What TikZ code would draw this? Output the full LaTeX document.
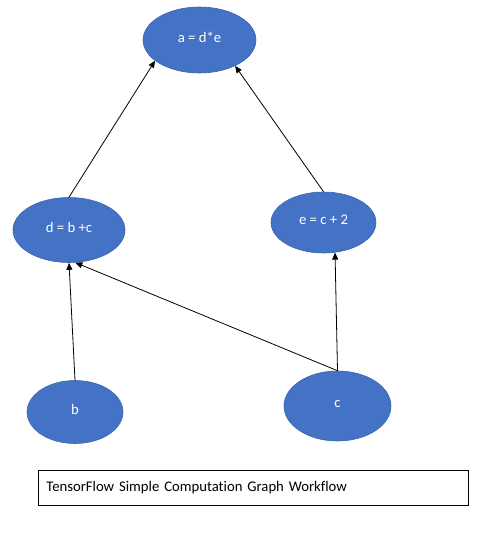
\documentclass[tikz,border=0pt]{standalone}
\usepackage{fontspec}
\setmainfont[Ligatures=NoCommon]{Carlito}
\usetikzlibrary{arrows.meta,shapes.geometric}
\definecolor{nodeblue}{HTML}{4472C4}
\definecolor{nodeedge}{HTML}{3A64B0}
\newcommand{\uplift}[1]{\raisebox{5pt}{#1}}
\tikzset{
  opnode/.style={ellipse, fill=nodeblue, draw=nodeedge, line width=0.6pt, inner sep=0pt,
    text=white, font=\fontsize{14.7}{17}\selectfont},
  flow/.style={-{Triangle[length=7pt,width=6pt]}, line width=0.8pt, black}
}
\begin{document}
\begin{tikzpicture}[x=1pt,y=-1pt]
\useasboundingbox (0,0) rectangle (482,533);
\node[opnode, minimum width=113pt, minimum height=66pt] (a) at (199.5,40) {\uplift{a = d*e}};
\node[opnode, minimum width=112pt, minimum height=65pt] (d) at (69,230) {\uplift{d = b +c}};
\node[opnode, minimum width=105pt, minimum height=61pt] (e) at (323.5,222.5) {\uplift{e = c + 2}};
\node[opnode, minimum width=96pt, minimum height=63pt] (b) at (75,412) {\uplift{b}};
\node[opnode, minimum width=107pt, minimum height=70pt] (c) at (337.5,406) {\uplift{c}};
\node[draw=black, line width=0.8pt, minimum width=430pt, minimum height=35pt, anchor=north west,
  text width=414pt, align=left, font=\fontsize{14.7}{17}\selectfont] (cap) at (38,470) {TensorFlow Simple Computation Graph Workflow};
\draw[flow] (d.north) -- (a.205);
\draw[flow] (e.north) -- (a.324);
\draw[flow] (b.north) -- (d.south);
\draw[flow] (c.north) -- (e.291);
\draw[flow] (c.north) -- (d.281);
\end{tikzpicture}
\end{document}
